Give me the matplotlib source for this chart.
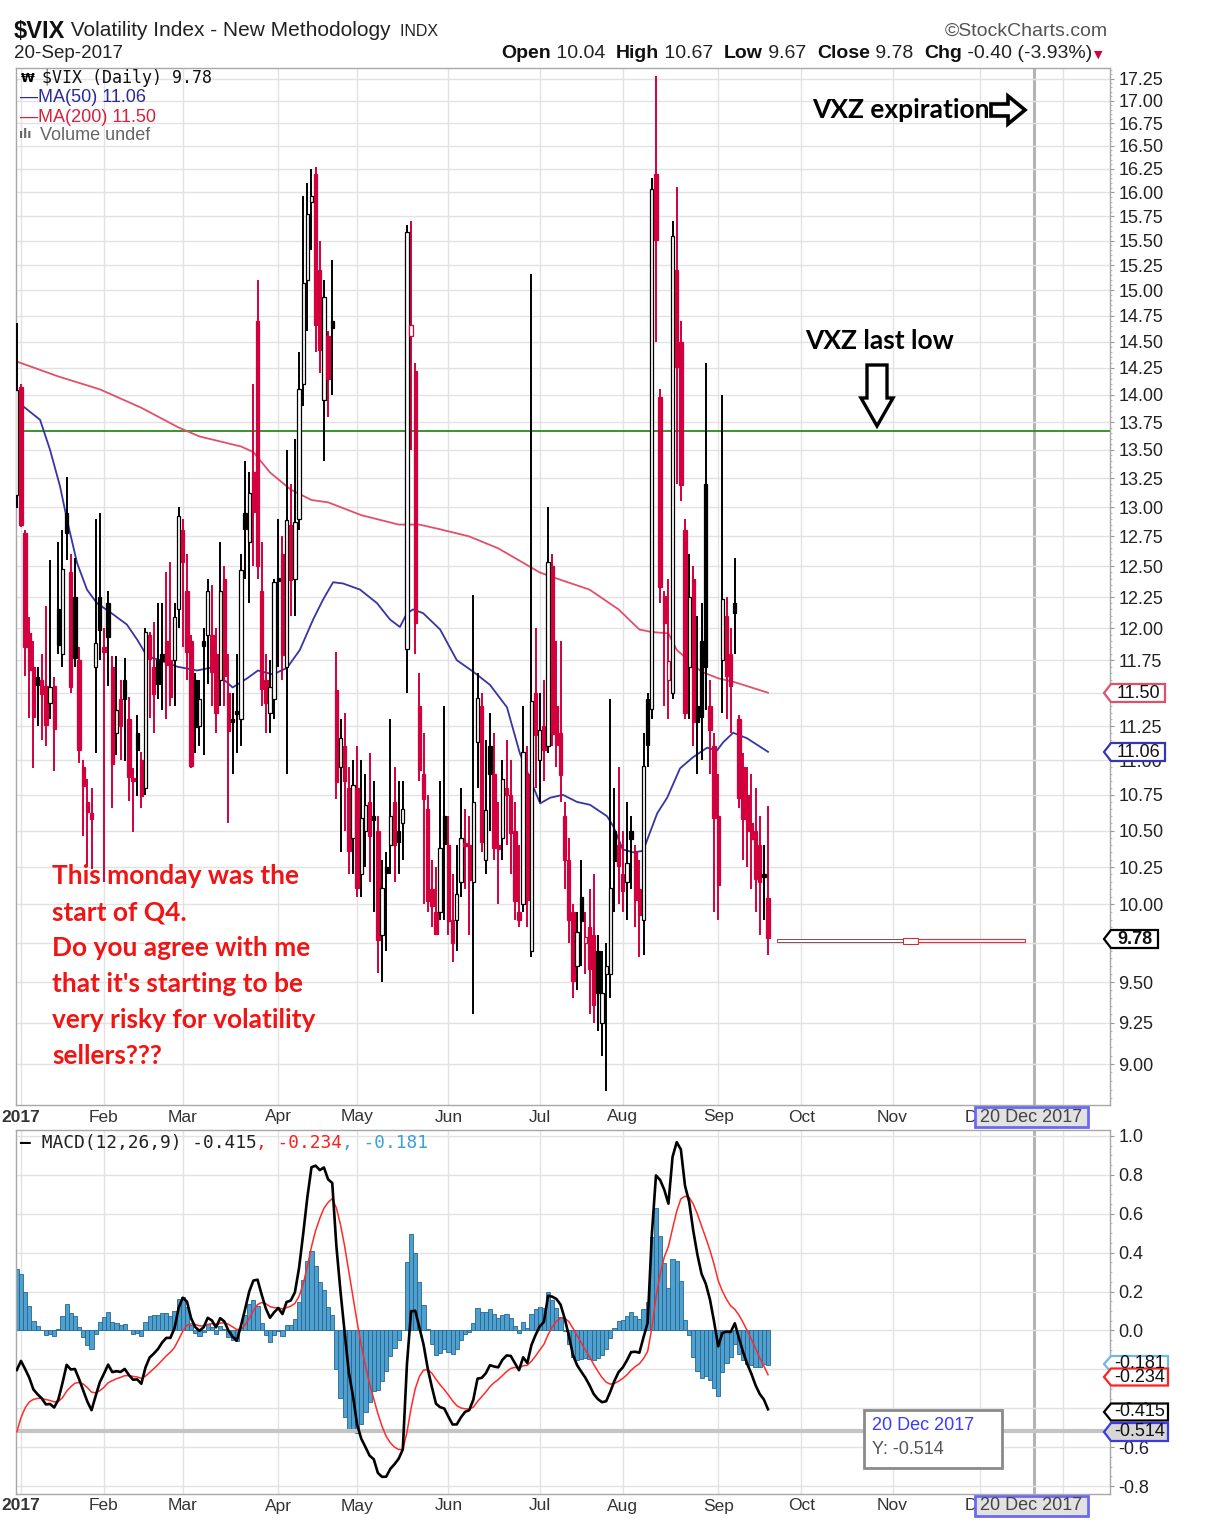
import numpy as np
import pandas as pd
import matplotlib
matplotlib.use("Agg")
import matplotlib.pyplot as plt
from matplotlib.patches import Polygon, Rectangle
from matplotlib.ticker import FixedLocator, FormatStrFormatter, NullFormatter

plt.rcParams['font.family'] = ['Liberation Sans', 'DejaVu Sans']

# ---------------- data ----------------
holidays = ['2017-01-02', '2017-01-16', '2017-02-20', '2017-04-14', '2017-05-29',
            '2017-07-04', '2017-09-04', '2017-11-23', '2017-12-25', '2018-01-01',
            '2018-01-15']
first_day = '2016-12-30'
prev_close = 12.95  # close of 29-Dec-2016

opens = [13.10,
 14.07, 12.78, 11.96, 11.70, 11.62, 11.60, 11.55, 11.42, 11.55, 12.15,
 11.80, 12.95, 12.45, 12.25, 11.75, 10.95, 10.70, 10.62, 11.70, 12.25,
 11.85, 12.20, 11.70, 11.20, 11.45, 11.60, 11.30, 10.86, 11.20, 11.00,
 10.80, 11.95, 11.70, 11.75, 11.80, 11.90, 11.75, 11.75, 12.15,
 12.80, 12.30, 11.90, 11.60, 11.25, 11.90, 11.95, 11.95, 11.80, 11.60,
 12.40, 11.50, 11.30, 11.35, 11.30, 12.95, 12.70, 13.30, 14.70, 12.30,
 11.60, 11.35, 11.45,
 12.40, 12.60, 11.70, 12.85, 12.40, 12.90, 14.10, 15.10, 15.90, 16.20,
 15.20, 13.95, 14.55, 14.70, 11.52, 10.95, 11.10, 10.80, 10.45,
 10.80, 10.20, 10.50, 10.70, 10.60, 10.50, 9.80, 10.25, 10.40, 10.70,
 10.50, 10.55, 11.84, 14.55, 14.22, 11.40, 10.90, 10.65, 10.10, 9.95,
 9.95, 10.60,
 10.40, 9.90, 9.90, 10.15, 10.40, 10.40, 10.15, 11.13, 11.40, 10.30,
 11.10, 10.90, 10.40, 10.45, 10.80, 10.75, 10.50, 9.95, 10.00, 10.90,
 9.70, 11.50,
 11.00, 11.25, 11.10, 12.50, 11.40, 11.20, 10.60, 10.30, 9.95, 9.60,
 10.05, 9.75, 9.85, 9.80, 9.70, 9.25, 9.55, 9.55, 10.50, 10.40,
 10.20, 10.15, 10.50, 10.35, 10.10, 9.90, 11.45, 11.38, 16.20, 13.98,
 12.26, 11.60, 11.50, 15.20, 14.50, 12.80, 11.70, 12.40, 11.40, 11.90,
 13.20, 11.40, 11.10,
 10.60, 11.75, 12.10, 11.80, 12.20, 11.30, 10.95, 10.75, 10.55, 10.50,
 10.40, 10.20, 10.04]

highs = [14.68,
 14.10, 12.80, 12.09, 11.90, 11.70, 11.80, 12.18, 12.55, 11.62, 12.70,
 12.80, 13.26, 12.60, 12.57, 11.85, 11.00, 10.86, 10.80, 12.90, 12.95,
 12.00, 12.30, 11.78, 11.78, 11.60, 11.77, 11.47, 10.94, 11.33, 11.06,
 12.00, 11.97, 12.05, 12.20, 12.20, 12.45, 12.54, 12.20, 13.00,
 12.90, 12.60, 11.95, 11.65, 11.60, 12.00, 12.40, 12.35, 12.00, 12.70,
 12.50, 11.80, 11.50, 11.80, 12.60, 13.40, 13.30, 14.10, 15.10, 12.70,
 11.80, 11.75, 12.40,
 12.90, 12.75, 13.50, 13.20, 13.60, 14.40, 15.96, 16.10, 16.25, 16.27,
 15.50, 15.10, 14.60, 15.30, 11.81, 11.30, 11.35, 10.95, 11.00,
 11.10, 11.00, 10.90, 11.05, 10.85, 10.60, 10.30, 10.35, 11.30, 10.95,
 10.85, 10.85, 15.66, 15.70, 14.30, 11.65, 11.20, 10.75, 10.30, 10.25,
 10.85, 11.40,
 10.60, 10.20, 10.40, 10.80, 10.65, 10.60, 12.27, 11.65, 11.50, 11.15,
 11.35, 11.20, 10.70, 11.00, 11.15, 11.00, 10.70, 10.40, 11.40, 11.10,
 15.16, 12.00,
 11.50, 11.60, 13.00, 12.60, 11.90, 11.90, 10.70, 10.45, 10.00, 9.95,
 10.30, 9.95, 10.10, 10.20, 9.80, 9.70, 9.75, 11.45, 10.80, 10.95,
 10.50, 10.70, 10.60, 10.40, 10.30, 11.20, 11.50, 16.15, 17.28, 14.05,
 12.30, 12.40, 15.70, 16.06, 14.70, 12.90, 12.60, 12.50, 12.10, 12.20,
 14.30, 11.60, 11.20,
 10.90, 14.00, 12.25, 12.00, 12.57, 11.33, 11.05, 10.95, 10.90, 10.80,
 10.60, 10.40, 10.67]

lows = [12.99,
 12.83, 11.63, 11.31, 10.94, 11.25, 11.15, 11.10, 11.30, 10.92, 11.80,
 11.70, 12.55, 11.50, 11.70, 10.98, 10.46, 10.25, 10.24, 11.05, 11.75,
 10.15, 11.55, 10.66, 11.04, 11.00, 10.99, 10.71, 10.49, 10.74, 10.66,
 10.75, 11.31, 11.20, 11.45, 11.37, 11.30, 11.40, 11.40, 12.00,
 11.85, 11.60, 10.94, 11.05, 11.10, 11.04, 11.57, 11.40, 11.20, 11.40,
 11.40, 10.55, 10.90, 11.05, 11.10, 12.40, 12.20, 12.50, 12.40, 11.40,
 11.20, 11.20, 11.30,
 11.70, 11.60, 10.90, 12.10, 12.10, 12.80, 13.90, 14.60, 15.40, 14.40,
 14.20, 13.40, 13.80, 14.00, 10.72, 10.35, 10.50, 10.20, 10.20,
 10.05, 10.05, 10.25, 10.15, 9.95, 9.56, 9.50, 9.70, 10.20, 10.15,
 10.20, 10.30, 11.50, 13.50, 11.80, 10.85, 10.00, 9.95, 9.85, 9.80,
 9.90, 9.90,
 9.80, 9.63, 9.70, 10.05, 10.10, 9.80, 9.30, 10.80, 10.35, 10.20,
 10.50, 10.30, 10.00, 10.30, 10.40, 10.20, 9.90, 9.85, 9.95, 9.85,
 9.66, 10.80,
 10.70, 10.85, 11.05, 11.10, 10.95, 10.70, 10.10, 9.75, 9.40, 9.45,
 9.60, 9.55, 9.30, 9.25, 9.20, 9.05, 8.84, 9.40, 9.95, 10.00,
 9.95, 9.90, 10.10, 9.85, 9.66, 9.67, 10.95, 11.30, 14.50, 12.20,
 11.40, 11.30, 11.45, 13.20, 13.05, 11.30, 11.30, 11.10, 10.90, 11.00,
 11.37, 10.90, 9.95,
 9.90, 11.35, 11.30, 11.20, 11.80, 10.66, 10.30, 10.25, 10.10, 9.95,
 9.80, 9.90, 9.67]

closes = [14.04,
 12.85, 11.85, 11.67, 11.32, 11.56, 11.49, 11.26, 11.54, 11.23, 11.87,
 12.48, 12.78, 11.54, 11.77, 11.07, 10.81, 10.63, 10.58, 11.88, 11.99,
 11.81, 11.93, 10.97, 11.37, 11.25, 11.45, 10.88, 10.85, 11.07, 10.74,
 11.97, 11.76, 11.49, 11.57, 11.74, 11.71, 11.47, 12.09, 12.92,
 12.54, 11.81, 10.96, 11.24, 11.45, 11.86, 12.30, 11.66, 11.35, 12.30,
 11.63, 11.21, 11.28, 11.34, 12.47, 12.81, 13.12, 12.96, 12.50, 11.53,
 11.42, 11.54, 12.37,
 12.38, 11.79, 12.89, 12.39, 12.87, 14.05, 15.07, 15.77, 15.96, 14.66,
 14.42, 14.93, 14.15, 14.63, 10.84, 11.16, 10.85, 10.36, 10.82,
 10.11, 10.59, 10.68, 10.46, 10.57, 9.77, 10.11, 10.21, 10.60, 10.40,
 10.42, 10.65, 15.59, 14.66, 12.04, 10.93, 10.72, 10.02, 9.99, 9.81,
 10.38, 10.41,
 9.89, 9.75, 10.07, 10.45, 10.39, 10.16, 10.70, 11.46, 10.42, 10.64,
 10.90, 10.38, 10.37, 10.86, 10.75, 10.48, 10.02, 9.90, 11.06, 10.03,
 11.44, 11.18,
 11.22, 11.07, 12.54, 11.19, 11.11, 10.89, 10.30, 9.90, 9.51, 9.82,
 9.89, 9.79, 9.58, 9.36, 9.43, 9.43, 9.60, 10.11, 10.29, 10.26,
 10.09, 10.28, 10.44, 10.03, 9.93, 10.96, 11.11, 16.04, 15.51, 12.33,
 12.04, 11.74, 15.55, 14.26, 13.19, 11.35, 12.25, 11.28, 11.28, 11.32,
 11.70, 11.22, 10.59,
 10.13, 12.23, 11.63, 11.55, 12.12, 10.73, 10.58, 10.50, 10.44, 10.17,
 10.15, 10.18, 9.78]

# moving averages (trading-day index, value)
ma50_idx = [-1, 4.6, 7, 9.4, 11.1, 13.5, 15.9, 18.3, 21.4, 25.5, 28, 30.4, 33.5, 37.6,
            42.4, 45.5, 49.6, 51, 54.5, 57.1, 60.7, 64.1, 67.2, 70.4, 72.8, 75.2,
            77.6, 81.7, 85.8, 88.9, 91.3, 93, 94.5, 96.9, 101, 105, 109, 113, 117.1,
            120.2, 123.4, 125.1, 127.5, 130.6, 134, 137.1, 141.2, 142.7, 145, 147.5,
            149.9, 151.6, 153.3, 155.7, 158.8, 161.9, 165.3, 167.7, 169.2, 171.6,
            174.9, 180]
ma50_val = [13.94, 13.77, 13.50, 13.18, 12.89, 12.53, 12.31, 12.20, 12.13, 12.03, 11.91,
            11.78, 11.75, 11.70, 11.67, 11.69, 11.58, 11.54, 11.61, 11.67, 11.64, 11.69,
            11.83, 12.07, 12.23, 12.37, 12.36, 12.31, 12.20, 12.07, 12.01, 12.12, 12.15,
            12.12, 11.99, 11.75, 11.66, 11.56, 11.39, 11.05, 10.81, 10.69, 10.73, 10.75,
            10.70, 10.68, 10.60, 10.53, 10.37, 10.35, 10.36, 10.49, 10.62, 10.73, 10.94,
            11.02, 11.09, 11.07, 11.13, 11.20, 11.16, 11.06]
ma200_idx = [-1, 9, 19, 29, 38, 43, 53, 56, 60, 65, 70, 74, 82, 91, 96, 101, 108, 115,
             120, 125, 130, 137, 144, 149, 152, 156, 158, 164, 168, 172, 180]
ma200_val = [14.31, 14.17, 14.05, 13.88, 13.70, 13.62, 13.53, 13.48, 13.30, 13.15, 13.06,
             13.04, 12.93, 12.85, 12.85, 12.81, 12.75, 12.65, 12.55, 12.45, 12.39, 12.31,
             12.15, 11.99, 11.97, 11.96, 11.83, 11.66, 11.61, 11.58, 11.50]

# MACD(12,26,9) starting state at 29-Dec-2016 (estimated from the left edge of the panel)
EMA12_INIT, EMA26_INIT, SIGNAL_INIT = 12.17, 12.55, -0.60

vxz_low_level = 13.67
cursor_date = '2017-12-20'
cursor_y = -0.514
price_ticks = [9.00 + 0.25 * k for k in range(34)]
macd_ticks = [-0.8, -0.6, -0.4, -0.2, 0.0, 0.2, 0.4, 0.6, 0.8, 1.0]

red_note = ["This monday was the", "start of Q4.", "Do you agree with me",
            "that it's starting to be", "very risky for volatility", "sellers???"]

# ---------------- derived ----------------
dates = pd.bdate_range(first_day, '2018-01-31', freq='C', holidays=holidays)
didx = np.arange(len(dates)) - 1
n = len(closes)
x = np.arange(n) - 1
o = np.array(opens); h = np.array(highs); l = np.array(lows); c = np.array(closes)
pc = np.r_[prev_close, c[:-1]]

# MACD
k12, k26, k9 = 2 / 13, 2 / 27, 2 / 10
e12, e26, sg = EMA12_INIT, EMA26_INIT, SIGNAL_INIT
macd, sig = [], []
for v in c:
    e12 += k12 * (v - e12)
    e26 += k26 * (v - e26)
    m = e12 - e26
    sg += k9 * (m - sg)
    macd.append(m); sig.append(sg)
macd = np.array(macd); sig = np.array(sig); hist = macd - sig

XMIN, XMAX = -1.2, 262.4

# month starts (only those inside the visible range)
ser = pd.Series(didx, index=dates)
month_first = ser.groupby([dates.year, dates.month]).first()
month_pos, month_lab = [], []
for (yy, mm), p in month_first.items():
    if p < 0 or p > XMAX:
        continue
    month_pos.append(p)
    month_lab.append(str(yy) if mm == 1 else pd.Timestamp(yy, mm, 1).strftime('%b'))
cursor_i = int(ser[pd.Timestamp(cursor_date)])

# ---------------- figure ----------------
W, H = 1205, 1531
fig = plt.figure(figsize=(W / 100, H / 100), dpi=100)
fig.patch.set_facecolor('white')


def fx(px):
    return px / W


def fy(py):
    return 1 - py / H


def P(pts):
    return [(fx(a), fy(b)) for a, b in pts]


L, R = 16, 1110
ax = fig.add_axes([fx(L), fy(1105), fx(R) - fx(L), fy(68) - fy(1105)])
axm = fig.add_axes([fx(L), fy(1494), fx(R) - fx(L), fy(1130) - fy(1494)])

GRID = '#e2e2e2'
SPINE = '#a8a8a8'
CRED = '#d2003c'

for a in (ax, axm):
    a.set_xlim(XMIN, XMAX)
    a.set_xticks(month_pos)
    a.tick_params(axis='x', length=0, labelbottom=False)
    a.grid(True, which='major', color=GRID, lw=1.0, zorder=0)
    for s in a.spines.values():
        s.set_color(SPINE)
        s.set_linewidth(1.0)
    a.yaxis.tick_right()
    a.tick_params(axis='y', which='major', length=3, color='#999999', labelsize=13,
                  labelcolor='#222222', pad=3)
    a.tick_params(axis='y', which='minor', length=1.5, color='#aaaaaa')
    a.axvline(cursor_i, color='#b4b4b4', lw=2.2, zorder=1)

# ---- price panel ----
ax.set_yscale('log')
ax.set_ylim(8.76, 17.37)
ax.yaxis.set_major_locator(FixedLocator(price_ticks))
ax.yaxis.set_major_formatter(FormatStrFormatter('%.2f'))
ax.yaxis.set_minor_locator(FixedLocator([8.8 + 0.05 * k for k in range(172)]))
ax.yaxis.set_minor_formatter(NullFormatter())

ax.axhline(vxz_low_level, color='#2a8a20', lw=1.3, zorder=2)
ax.plot(ma200_idx, ma200_val, color='#e0506a', lw=1.3, zorder=2)
ax.plot(ma50_idx, ma50_val, color='#3535a5', lw=1.3, zorder=2)

up = c >= pc
col = np.where(up, 'black', CRED)
ax.vlines(x, l, h, colors=col, lw=1.4, zorder=3)
bot = np.minimum(o, c)
top = np.maximum(o, c)
top = np.where(top / bot < 1.002, bot * 1.002, top)
face = np.where(c < o, col, 'white')
ax.bar(x, top - bot, bottom=bot, width=0.8, color=list(face), edgecolor=list(col),
       linewidth=0.9, zorder=4)

# ---- MACD panel ----
axm.set_ylim(-0.84, 1.03)
axm.yaxis.set_major_locator(FixedLocator(macd_ticks))
axm.yaxis.set_major_formatter(FormatStrFormatter('%.1f'))
axm.yaxis.set_minor_locator(FixedLocator([-0.85 + 0.05 * k for k in range(39)]))
axm.yaxis.set_minor_formatter(NullFormatter())
axm.bar(x, hist, width=1.0, color='#4f9fcf', edgecolor='#24678f', linewidth=0.6, zorder=2)
axm.plot(x, sig, color='#ff2a2a', lw=1.1, zorder=4)
axm.plot(x, macd, color='black', lw=1.9, zorder=5)
axm.axhline(cursor_y, color='#c4c4c4', lw=3, zorder=3)

# ---- date labels ----
for a, yoff in ((ax, -12 / 1037), (axm, -12 / 364)):
    tr = a.get_xaxis_transform()
    for p, lab in zip(month_pos, month_lab):
        if lab.isdigit() and p > 0:
            continue  # the 2018 label sits under the cursor date box
        a.text(p, yoff, lab, transform=tr, ha='center', va='center', fontsize=12.5,
               color='#333333', fontweight='bold' if lab.isdigit() else 'normal',
               clip_on=False)

# ---------------- text helpers ----------------
renderer = fig.canvas.get_renderer()


def seq(x0, y0, parts, align='left'):
    arts = []
    widths = []
    for s, kw in parts:
        t = fig.text(fx(x0), fy(y0), s, ha='left', va='center', **kw)
        arts.append(t)
        widths.append(t.get_window_extent(renderer=renderer).width)
    total = sum(widths)
    start = x0 - total if align == 'right' else x0
    xx = start
    for t, w in zip(arts, widths):
        t.set_x(fx(xx))
        xx += w
    return xx


# header
seq(14, 31, [("$VIX", dict(fontsize=17, fontweight='bold', color='#111111')),
             (" Volatility Index - New Methodology", dict(fontsize=15, color='#222222')),
             ("  INDX", dict(fontsize=11.5, color='#222222'))])
fig.text(fx(14), fy(54), "20-Sep-2017", fontsize=13.5, color='#222222', va='center')
fig.text(fx(1108), fy(31), "\u00a9StockCharts.com", fontsize=14, color='#555555',
         ha='right', va='center')
B = dict(fontsize=14, fontweight='bold', color='#111111')
N = dict(fontsize=14, color='#222222')
seq(1092, 54, [("Open", B), (" 10.04  ", N), ("High", B), (" 10.67  ", N), ("Low", B),
               (" 9.67  ", N), ("Close", B), (" 9.78  ", N), ("Chg", B),
               (" -0.40 (-3.93%)", N)], align='right')
fig.text(fx(1094), fy(55), "\u25bc", fontsize=8, color=CRED, va='center',
         family='DejaVu Sans')

# legends
fig.text(fx(21), fy(78), "\u20a9", fontsize=9, fontweight='bold', va='center',
         family='DejaVu Sans')
fig.text(fx(42), fy(78), "$VIX (Daily) 9.78", fontsize=12, va='center',
         family='DejaVu Sans Mono', color='#111111')
fig.text(fx(20), fy(98), "\u2014MA(50) 11.06", fontsize=13, va='center', color='#2a2a9a')
fig.text(fx(20), fy(117), "\u2014MA(200) 11.50", fontsize=13, va='center', color='#d8203c')
fig.text(fx(19), fy(135), "\u0131l\u0131", fontsize=9, fontweight='bold', va='center',
         color='#666666', family='DejaVu Sans')
fig.text(fx(40), fy(135), "Volume undef", fontsize=13, va='center', color='#666666')

seq(20, 1143, [("\u2014", dict(fontsize=12.9, color='black', fontweight='bold',
                               family='DejaVu Sans Mono')),
               (" MACD(12,26,9) -0.415", dict(fontsize=12.9, color='#222222',
                                              family='DejaVu Sans Mono')),
               (", -0.234", dict(fontsize=12.9, color='#ff2020', family='DejaVu Sans Mono')),
               (", -0.181", dict(fontsize=12.9, color='#3aa0d8', family='DejaVu Sans Mono'))])

# annotations
ANN = dict(fontsize=19, fontweight='bold', family=['Lato', 'DejaVu Sans'])
fig.text(fx(812), fy(110), "VXZ expiration", color='black', va='center', **ANN)
fig.text(fx(805), fy(341), "VXZ last low", color='black', va='center', **ANN)
for k, line in enumerate(red_note):
    fig.text(fx(52), fy(876 + 36 * k), line, color='#f01414', va='center', **ANN)

fig.add_artist(Polygon(P([(991, 104), (1008, 104), (1008, 96), (1025, 110), (1008, 124),
                          (1008, 116), (991, 116)]), closed=True, facecolor='white',
                       edgecolor='black', lw=2.6, transform=fig.transFigure, zorder=6))
fig.add_artist(Polygon(P([(867, 365), (887, 365), (887, 398), (893, 398), (877, 426),
                          (861, 398), (867, 398)]), closed=True, facecolor='white',
                       edgecolor='black', lw=2.4, transform=fig.transFigure, zorder=6))

# last price trailing line
fig.add_artist(Rectangle((fx(777), fy(942)), fx(905) - fx(777), 3 / H, facecolor='white',
                         edgecolor='#8a4a55', lw=0.7, transform=fig.transFigure, zorder=6))
fig.add_artist(Rectangle((fx(903), fy(944)), fx(918) - fx(903), 6 / H, facecolor='white',
                         edgecolor='#c03040', lw=0.8, transform=fig.transFigure, zorder=6))
fig.add_artist(Rectangle((fx(918), fy(942)), fx(1025) - fx(918), 3 / H, facecolor='white',
                         edgecolor='#e03040', lw=0.8, transform=fig.transFigure, zorder=6))


# right-side value tags
def tag(yc, txt, edge, x0=1104, x1=1165, hgt=18, face='white', bold=False, tcol='#111111'):
    pts = [(x0, yc), (x0 + 7, yc - hgt / 2), (x1, yc - hgt / 2), (x1, yc + hgt / 2),
           (x0 + 7, yc + hgt / 2)]
    fig.add_artist(Polygon(P(pts), closed=True, facecolor=face, edgecolor=edge, lw=1.6,
                           transform=fig.transFigure, zorder=7))
    fig.text(fx((x0 + 7 + x1) / 2), fy(yc), txt, ha='center', va='center', fontsize=13,
             color=tcol, fontweight='bold' if bold else 'normal', zorder=8)


tag(693, "11.50", '#e0506a')
tag(752, "11.06", '#3535b5')
tag(939, "9.78", 'black', x1=1158, bold=True)
tag(1364, "-0.181", '#70b8e8', x1=1168, hgt=16)
tag(1377, "-0.234", '#ff2020', x1=1168, hgt=17)
tag(1412, "-0.415", 'black', x1=1168, hgt=17)
tag(1432, "-0.514", '#3a3ae0', x1=1168, hgt=18, face='#d6d6d6')

# date cursor boxes
for yc in (1117, 1506):
    fig.add_artist(Rectangle((fx(975), fy(yc + 10)), fx(1088) - fx(975), 20 / H,
                             facecolor='#e2e2e2', edgecolor='#6a6af0', lw=2,
                             transform=fig.transFigure, zorder=7))
    fig.text(fx(1031), fy(yc), "20 Dec 2017", ha='center', va='center', fontsize=13,
             color='#444444', zorder=8)

# tooltip
fig.add_artist(Rectangle((fx(864), fy(1468)), fx(1002) - fx(864), 58 / H, facecolor='white',
                         edgecolor='#8a8a8a', lw=2, transform=fig.transFigure, zorder=7))
fig.text(fx(872), fy(1425), "20 Dec 2017", fontsize=13, color='#3a3aff', va='center', zorder=8)
fig.text(fx(872), fy(1450), "Y: -0.514", fontsize=13, color='#555555', va='center', zorder=8)

fig.savefig('out.png', dpi=100, facecolor='white')
